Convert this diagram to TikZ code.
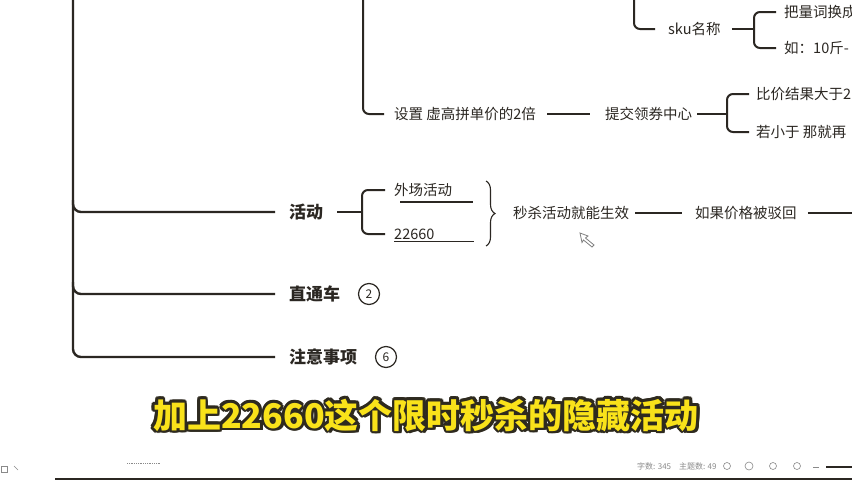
\documentclass[tikz,border=0pt]{standalone}
\usepackage{fontspec}
\setmainfont{Noto Sans CJK SC}
\usetikzlibrary{decorations.pathreplacing}
\definecolor{ink}{HTML}{2B2722}
\definecolor{subyellow}{HTML}{F9E21A}
\definecolor{subdark}{HTML}{2E2A1F}
\definecolor{statgray}{HTML}{8A8A8A}
\begin{document}
\begin{tikzpicture}[x=1pt,y=-1pt,
  txt/.style={font=\fontsize{14.5}{16}\selectfont, text=ink, inner sep=1pt, anchor=west},
  bold/.style={font=\fontsize{17}{19}\selectfont\bfseries, text=ink, inner sep=1pt, anchor=west},
  trunk/.style={draw=ink, line width=2.4pt, rounded corners=8pt},
  link/.style={draw=ink, line width=2pt, rounded corners=6pt},
  circ/.style={circle, draw=ink, line width=1.2pt, minimum size=21pt, inner sep=0pt, font=\fontsize{12}{12}\selectfont, text=ink},
  subback/.style={font=\fontsize{34}{36}\selectfont\bfseries, text=subdark, inner sep=0pt},
  subfront/.style={font=\fontsize{34}{36}\selectfont\bfseries, text=subyellow, inner sep=0pt},
  status/.style={font=\fontsize{8}{9}\selectfont, text=statgray, inner sep=0pt, anchor=west},
  ]
\useasboundingbox (0,0) rectangle (852,480);
\clip (0,0) rectangle (852,480);
\fill[white] (0,0) rectangle (852,480);

% ---- main trunk and its branches
\coordinate (mtop) at (73,0);
\coordinate (b1) at (73,200);
\coordinate (b2) at (73,282);
\node[bold] (huodong) at (288,212) {活动};
\node[bold] (ztc) at (288,294) {直通车};
\node[bold] (zysx) at (288,357) {注意事项};
\node[circ] (c2) at (369,294) {2};
\node[circ] (c6) at (386,357) {6};
\draw[trunk] (mtop) |- ([xshift=-13pt]zysx.west);
\draw[trunk] (b1) |- ([xshift=-13pt]huodong.west);
\draw[trunk] (b2) |- ([xshift=-13pt]ztc.west);

% ---- second trunk
\coordinate (t2) at (363,0);
\node[txt] (shezhi) at (393,114) {设置 虚高拼单价的2倍};
\node[txt] (tijiao) at (604,114) {提交领券中心};
\draw[link] (t2) |- ([xshift=-9pt]shezhi.west);
\draw[link] ([xshift=10pt]shezhi.east) -- ([xshift=-14pt]tijiao.west);
\coordinate (j1) at (727,114);
\node[txt] (bijia) at (755,94) {比价结果大于2};
\node[txt] (ruoxiao) at (755,132) {若小于 那就再};
\draw[link] ([xshift=4pt]tijiao.east) -- (j1);
\draw[link] ([xshift=-6pt]bijia.west) -| (j1) |- ([xshift=-6pt]ruoxiao.west);

% ---- top branch
\coordinate (t3) at (634,0);
\node[txt] (sku) at (667,29) {sku名称};
\draw[link] (t3) |- ([xshift=-12pt]sku.west);
\coordinate (j2) at (754,29);
\node[txt] (baliang) at (783,12) {把量词换成};
\node[txt] (ru) at (783,48) {如：10斤-};
\draw[link] ([xshift=10pt]sku.east) -- (j2);
\draw[link] ([xshift=-7pt]baliang.west) -| (j2) |- ([xshift=-7pt]ru.west);

% ---- activity branch
\coordinate (j3) at (362,212);
\node[txt] (waichang) at (393,190) {外场活动};
\node[txt] (num) at (393,234) {22660};
\draw[link] ([xshift=13pt]huodong.east) -- (j3);
\draw[link] ([xshift=-8pt]waichang.west) -| (j3) |- ([xshift=-8pt]num.west);
\draw[ink, line width=1.4pt] ([xshift=7pt,yshift=-4pt]waichang.south west) -- ([xshift=20pt,yshift=-4pt]waichang.south east);
\draw[ink, line width=1.4pt] ([xshift=1pt,yshift=-1pt]num.south west) -- ([xshift=38pt,yshift=-1pt]num.south east);
\coordinate (brtop) at (486,181);
\coordinate (brbot) at (486,246);
\draw[ink, line width=1.1pt, decorate, decoration={brace, amplitude=9pt}] (brtop) -- (brbot);
\node[txt] (miaosha) at (512,213) {秒杀活动就能生效};
\node[txt] (bohui) at (694,213) {如果价格被驳回};
\coordinate (rend) at (852,213);
\draw[link] ([xshift=5pt]miaosha.east) -- ([xshift=-12pt]bohui.west);
\draw[link] ([xshift=10pt]bohui.east) -- (rend);

% ---- mouse cursor
\draw[fill=white, draw=gray, line width=0.8pt] (580,233) -- (588,236) -- (585.5,238) -- (594,245) -- (592,247) -- (583.5,240) -- (582,242.5) -- cycle;

% ---- subtitle
\foreach \a in {0,30,...,330} {
  \node[subback] (subb\a) at ([shift={(\a:2.6pt)}]426,415) {加上22660这个限时秒杀的隐藏活动};
}
\node[subback] (subshadow) at (428.5,417.5) {加上22660这个限时秒杀的隐藏活动};
\node[subfront] (sub) at (426,415) {加上22660这个限时秒杀的隐藏活动};

% ---- status bar
\draw[ink, line width=2pt] (55,479) -- (852,479);
\draw[statgray, line width=0.8pt, densely dotted] (127,463) -- (161,463);
\draw[statgray, line width=0.6pt] (1,466) rectangle (7,472);
\draw[statgray, line width=0.6pt] (14,466) -- (18,470);
\node[status] (stat) at (637,466) {字数: 345\quad 主题数: 49};
\draw[statgray, line width=0.6pt] (727,466) circle (3.5pt);
\draw[statgray, line width=0.6pt] (749,466) circle (4pt);
\draw[statgray, line width=0.6pt] (773,466) circle (3.5pt);
\draw[statgray, line width=0.6pt] (797,466) circle (3.5pt);
\draw[statgray, line width=0.8pt] (813,467) -- (819,467);
\draw[ink, line width=1.5pt] (826,467) -- (852,467);
\end{tikzpicture}
\end{document}
